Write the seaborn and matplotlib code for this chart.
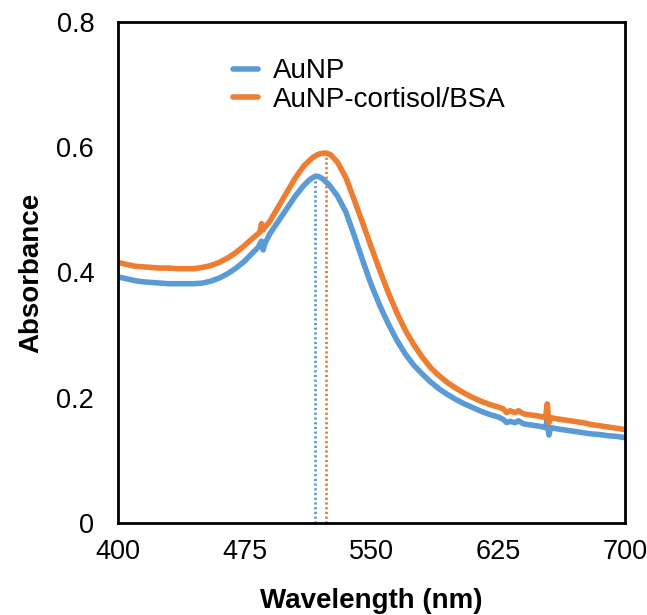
import numpy as np
import pandas as pd
import matplotlib
matplotlib.use("Agg")
import matplotlib.pyplot as plt
import seaborn as sns
from matplotlib.lines import Line2D

# ---- data ----
wl_aunp = [400, 405, 410, 415, 420, 425, 430, 435, 440, 445, 450, 455, 460, 465, 470,
           475, 480, 483, 485, 486, 487, 490, 495, 500, 505, 510, 513, 515, 517, 519,
           521, 525, 530, 535, 540, 545, 550, 555, 560, 565, 570, 575, 580, 585, 590,
           595, 600, 605, 610, 615, 620, 625, 628, 630, 632, 635, 637, 640, 645, 650,
           653, 654, 655, 656, 660, 665, 670, 675, 680, 685, 690, 695, 700]
abs_aunp = [0.393, 0.390, 0.387, 0.385, 0.384, 0.383, 0.382, 0.382, 0.382, 0.382, 0.383,
            0.386, 0.391, 0.398, 0.407, 0.418, 0.432, 0.440, 0.450, 0.436, 0.446, 0.462,
            0.482, 0.502, 0.522, 0.539, 0.547, 0.551, 0.554, 0.553, 0.550, 0.540, 0.522,
            0.496, 0.458, 0.418, 0.380, 0.347, 0.318, 0.292, 0.270, 0.252, 0.238, 0.225,
            0.214, 0.205, 0.197, 0.190, 0.184, 0.178, 0.173, 0.169, 0.165, 0.160, 0.162,
            0.160, 0.163, 0.158, 0.156, 0.154, 0.152, 0.165, 0.140, 0.152, 0.150, 0.148,
            0.146, 0.144, 0.142, 0.141, 0.139, 0.138, 0.136]

wl_conj = [400, 405, 410, 415, 420, 425, 430, 435, 440, 445, 450, 455, 460, 465, 470,
           475, 480, 484, 485, 486, 487, 490, 495, 500, 505, 510, 515, 518, 520, 523,
           526, 530, 535, 540, 545, 550, 555, 560, 565, 570, 575, 580, 585, 590, 595,
           600, 605, 610, 615, 620, 625, 628, 630, 632, 635, 637, 640, 645, 650, 653,
           654, 655, 656, 660, 665, 670, 675, 680, 685, 690, 695, 700]
abs_conj = [0.416, 0.413, 0.410, 0.409, 0.408, 0.407, 0.407, 0.406, 0.406, 0.406, 0.408,
            0.411, 0.416, 0.423, 0.432, 0.443, 0.455, 0.464, 0.478, 0.468, 0.472, 0.482,
            0.505, 0.528, 0.551, 0.570, 0.583, 0.588, 0.590, 0.591, 0.588, 0.576, 0.551,
            0.515, 0.478, 0.440, 0.403, 0.368, 0.336, 0.308, 0.285, 0.265, 0.248, 0.235,
            0.224, 0.215, 0.207, 0.200, 0.194, 0.189, 0.185, 0.182, 0.176, 0.179, 0.176,
            0.179, 0.174, 0.172, 0.170, 0.168, 0.190, 0.160, 0.168, 0.166, 0.164, 0.162,
            0.160, 0.157, 0.155, 0.153, 0.151, 0.149]

series_names = ["AuNP", "AuNP-cortisol/BSA"]
peak_wl = [516.5, 523]
peak_abs = [0.554, 0.591]
x_ticks = [400, 475, 550, 625, 700]
y_ticks = [0, 0.2, 0.4, 0.6, 0.8]
y_tick_labels = ["0", "0.2", "0.4", "0.6", "0.8"]

colors = ["#5B9BD5", "#ED7D31"]

df = pd.concat([
    pd.DataFrame({"Wavelength": wl_aunp, "Absorbance": abs_aunp, "Sample": series_names[0]}),
    pd.DataFrame({"Wavelength": wl_conj, "Absorbance": abs_conj, "Sample": series_names[1]}),
], ignore_index=True)

sns.set_theme(style="white")
plt.rcParams["font.family"] = ["Liberation Sans", "DejaVu Sans"]
plt.rcParams["text.color"] = "black"
plt.rcParams["axes.labelcolor"] = "black"
plt.rcParams["xtick.color"] = "black"
plt.rcParams["ytick.color"] = "black"

fig = plt.figure(figsize=(6.47, 6.15), dpi=100)
ax = fig.add_axes([0.182, 0.150, 0.784, 0.814])

sns.lineplot(data=df, x="Wavelength", y="Absorbance", hue="Sample",
             palette=dict(zip(series_names, colors)), linewidth=4,
             ax=ax, legend=False, estimator=None, sort=False)

for wl, a, c in zip(peak_wl, peak_abs, colors):
    ax.vlines(wl, 0, a, colors=c, linestyles=(0, (0.8, 0.9)), linewidth=2, zorder=1)

ax.set_xlim(400, 700)
ax.set_ylim(0, 0.8)
ax.set_xticks(x_ticks)
ax.set_yticks(y_ticks)
ax.set_yticklabels(y_tick_labels)
ax.tick_params(axis="y", labelsize=19.5, length=0, pad=17, labelcolor="black")
ax.tick_params(axis="x", labelsize=19.5, length=0, pad=12, labelcolor="black")
ax.set_xlabel("Wavelength (nm)", fontsize=20, fontweight="bold", labelpad=16, color="black")
ax.set_ylabel("Absorbance", fontsize=20, fontweight="bold", labelpad=9, color="black")
for s in ax.spines.values():
    s.set_color("black")
    s.set_linewidth(2)

handles = [Line2D([0], [0], color=c, lw=4) for c in colors]
ax.legend(handles, series_names, loc="upper left", bbox_to_anchor=(0.205, 0.95),
          frameon=False, fontsize=20, handlelength=0.9, handletextpad=0.55,
          labelspacing=0.1, borderaxespad=0, labelcolor="black")

fig.savefig("out.png", dpi=100)
